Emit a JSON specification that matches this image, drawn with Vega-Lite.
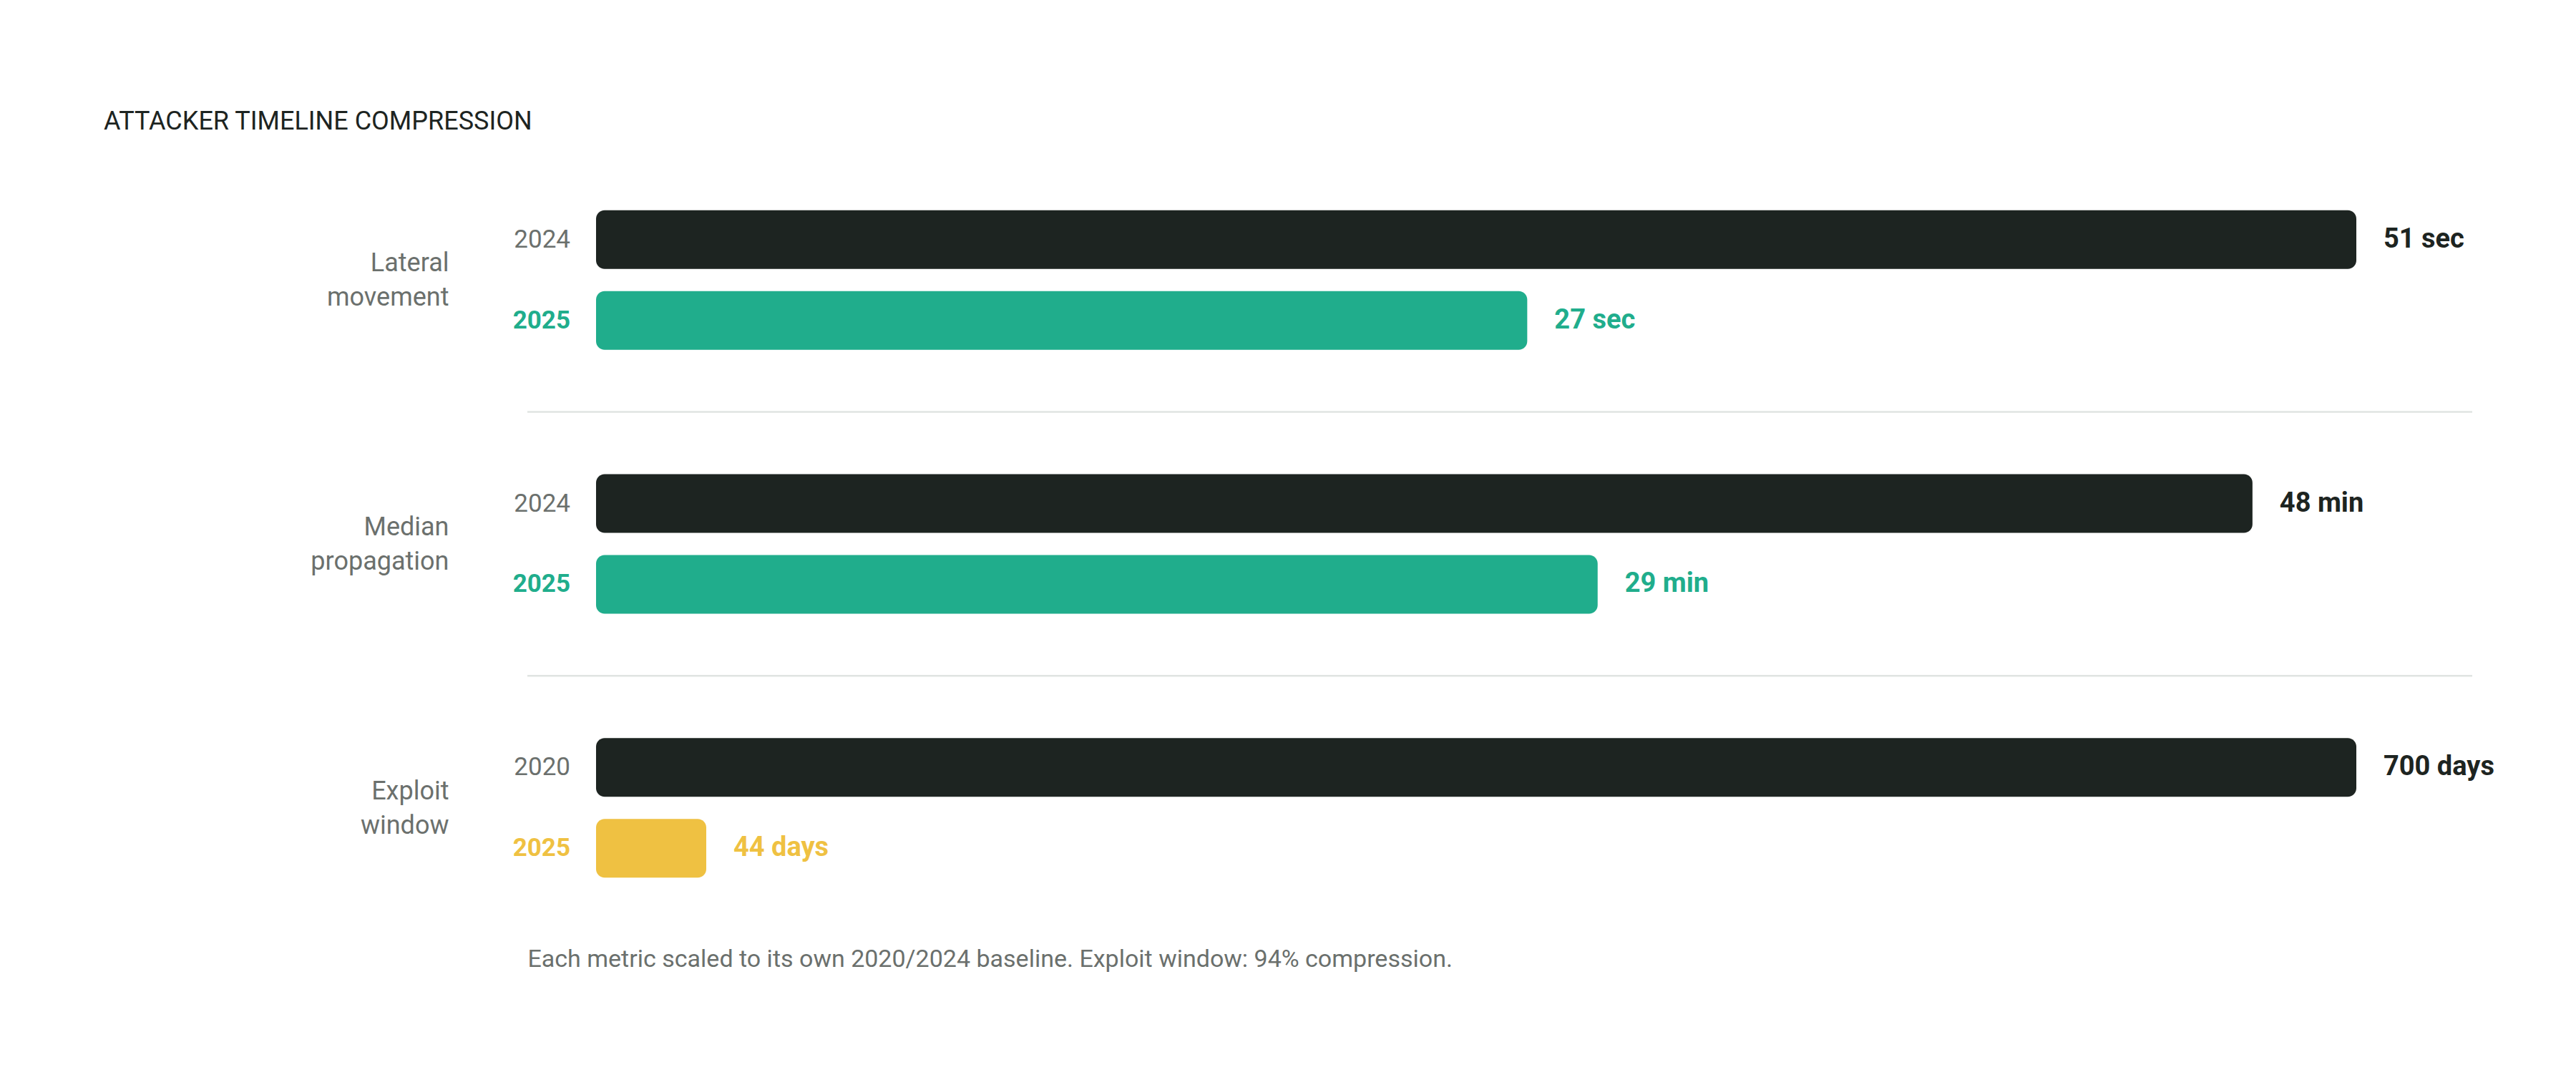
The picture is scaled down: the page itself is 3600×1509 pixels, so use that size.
{
  "$schema": "https://vega.github.io/schema/vega-lite/v6.json",
  "width": 2718,
  "height": 1106,
  "autosize": {"type": "none"},
  "padding": {"left": 737, "top": 207, "right": 145, "bottom": 196},
  "background": "white",
  "title": {
    "text": "ATTACKER TIMELINE COMPRESSION",
    "anchor": "start",
    "frame": "group",
    "dx": -592,
    "offset": -10,
    "baseline": "alphabetic",
    "font": "Roboto",
    "fontSize": 36,
    "fontWeight": "normal",
    "color": "#1d2421"
  },
  "data": {
    "values": [
      {"metric": "Lateral movement", "period": "base", "year": "2024", "share": 1.0, "label": "51 sec"},
      {"metric": "Lateral movement", "period": "recent", "year": "2025", "share": 0.529, "label": "27 sec"},
      {"metric": "Median propagation", "period": "base", "year": "2024", "share": 0.941, "label": "48 min"},
      {"metric": "Median propagation", "period": "recent", "year": "2025", "share": 0.569, "label": "29 min"},
      {"metric": "Exploit window", "period": "base", "year": "2020", "share": 1.0, "label": "700 days"},
      {"metric": "Exploit window", "period": "recent", "year": "2025", "share": 0.0626, "label": "44 days"}
    ]
  },
  "encoding": {
    "y": {
      "field": "metric",
      "type": "nominal",
      "sort": null,
      "scale": {"paddingInner": 0.471, "paddingOuter": 0.2355},
      "axis": {
        "title": null,
        "domain": false,
        "ticks": false,
        "grid": false,
        "labelExpr": "split(datum.value, ' ')",
        "labelFont": "Roboto",
        "labelFontSize": 36,
        "labelLineHeight": 48,
        "labelColor": "#6b706d",
        "labelPadding": 110,
        "labelAlign": "right",
        "labelBaseline": "middle",
        "labelOffset": -23,
        "labelLimit": 0
      }
    }
  },
  "layer": [
    {
      "transform": [{"filter": "datum.metric !== 'Exploit window' && datum.period === 'base'"}],
      "mark": {"type": "rule", "color": "#e0e4e2", "strokeWidth": 2.5, "yOffset": 184.25},
      "encoding": {}
    },
    {
      "mark": {"type": "bar", "cornerRadius": 12},
      "encoding": {
        "yOffset": {"field": "period", "type": "nominal", "sort": ["base", "recent"], "scale": {"paddingInner": 0.274, "paddingOuter": 0}},
        "x": {
          "field": "share",
          "type": "quantitative",
          "scale": {"domain": [-0.03902, 1.06585], "nice": false, "zero": false},
          "axis": {
            "labels": false,
            "ticks": false,
            "domain": false,
            "grid": false,
            "title": "Each metric scaled to its own 2020/2024 baseline. Exploit window: 94% compression.",
            "titleAnchor": "start",
            "titleAlign": "left",
            "titleFont": "Roboto",
            "titleFontSize": 34,
            "titleFontWeight": "normal",
            "titleColor": "#6b706d",
            "titlePadding": 10
          }
        },
        "x2": {"datum": 0},
        "color": {
          "condition": [
            {"test": "datum.period === 'base'", "value": "#1d2421"},
            {"test": "datum.metric === 'Exploit window'", "value": "#efc142"}
          ],
          "value": "#20ad8c"
        }
      }
    },
    {
      "transform": [{"filter": "datum.period === 'base'"}],
      "mark": {"type": "text", "align": "right", "baseline": "middle", "dx": -36, "font": "Roboto", "fontSize": 35, "color": "#6b706d"},
      "encoding": {
        "yOffset": {"field": "period", "type": "nominal", "sort": ["base", "recent"], "scale": {"paddingInner": 0.274, "paddingOuter": 0}},
        "x": {"datum": 0},
        "text": {"field": "year"}
      }
    },
    {
      "transform": [{"filter": "datum.period === 'recent'"}],
      "mark": {"type": "text", "align": "right", "baseline": "middle", "dx": -36, "font": "Roboto", "fontSize": 35, "fontWeight": "bold"},
      "encoding": {
        "yOffset": {"field": "period", "type": "nominal", "sort": ["base", "recent"], "scale": {"paddingInner": 0.274, "paddingOuter": 0}},
        "x": {"datum": 0},
        "text": {"field": "year"},
        "color": {
          "condition": {"test": "datum.metric === 'Exploit window'", "value": "#efc142"},
          "value": "#20ad8c"
        }
      }
    },
    {
      "mark": {"type": "text", "align": "left", "baseline": "middle", "dx": 38, "font": "Roboto", "fontSize": 38, "fontWeight": "bold"},
      "encoding": {
        "yOffset": {"field": "period", "type": "nominal", "sort": ["base", "recent"], "scale": {"paddingInner": 0.274, "paddingOuter": 0}},
        "x": {"field": "share", "type": "quantitative"},
        "text": {"field": "label"},
        "color": {
          "condition": [
            {"test": "datum.period === 'base'", "value": "#1d2421"},
            {"test": "datum.metric === 'Exploit window'", "value": "#efc142"}
          ],
          "value": "#20ad8c"
        }
      }
    }
  ],
  "config": {
    "view": {"stroke": null}
  }
}
